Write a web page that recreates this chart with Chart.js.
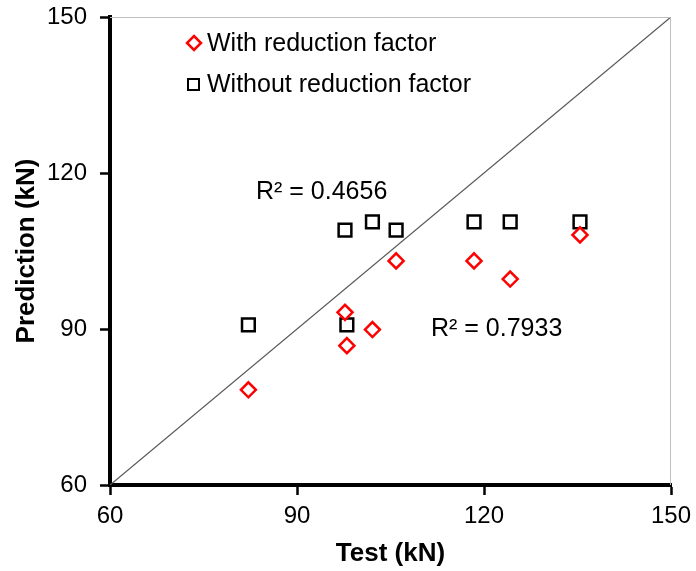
<!DOCTYPE html>
<html>
<head>
<meta charset="utf-8">
<script src="https://cdn.jsdelivr.net/npm/chart.js@4"></script>
<style>
  html, body { margin: 0; padding: 0; background: #fff; }
  #wrap { width: 696px; height: 571px; }
</style>
</head>
<body>
<div id="wrap"><canvas id="myChart"></canvas></div>
<script>
var testWith = [82.2, 97.7, 98.0, 102.1, 105.9, 118.4, 124.2, 135.4];
var predWith = [78.3, 93.2, 86.8, 89.9, 103.1, 103.1, 99.6, 108.1];
var testWithout = [82.2, 97.7, 98.0, 102.1, 105.9, 118.4, 124.2, 135.4];
var predWithout = [90.8, 109.0, 90.8, 110.6, 109.0, 110.6, 110.6, 110.6];
var lineX = [60, 150];
var axisTicks = [60, 90, 120, 150];
var seriesNames = ['With reduction factor', 'Without reduction factor'];
var r2Labels = ['R\u00b2 = 0.4656', 'R\u00b2 = 0.7933'];

function toPoints(xs, ys) {
    return xs.map(function (x, i) { return { x: x, y: ys[i] }; });
}

var FONT = '"Liberation Sans", Arial, sans-serif';

// legend, R² labels and the thin top/right frame
var extras = {
    id: 'extras',
    afterDraw: function (chart) {
        var c = chart.ctx;
        var a = chart.chartArea;
        c.save();
        c.strokeStyle = '#bfbfbf';
        c.lineWidth = 1;
        c.beginPath();
        c.moveTo(a.left, a.top + 0.5);
        c.lineTo(a.right - 0.5, a.top + 0.5);
        c.lineTo(a.right - 0.5, a.bottom);
        c.stroke();

        // legend
        c.lineWidth = 2.5;
        c.strokeStyle = '#ff0000';
        c.beginPath();
        c.moveTo(194, 36); c.lineTo(201, 43); c.lineTo(194, 50); c.lineTo(187, 43); c.closePath();
        c.stroke();
        c.strokeStyle = '#000';
        c.lineWidth = 2;
        c.strokeRect(188, 79, 11, 11);
        c.fillStyle = '#000';
        c.font = '25px ' + FONT;
        c.textBaseline = 'middle';
        c.textAlign = 'left';
        c.fillText(seriesNames[0], 207, 44);
        c.fillText(seriesNames[1], 207, 85);

        c.fillText(r2Labels[0], 256, 192);
        c.fillText(r2Labels[1], 431, 329);
        c.restore();
    }
};

function fixTicks(s) {
    s.ticks = axisTicks.map(function (v) { return { value: v }; });
}

var ctx = document.getElementById('myChart').getContext('2d');
var myChart = new Chart(ctx, {
    type: 'scatter',
    data: {
        datasets: [{
            label: seriesNames[0],
            data: toPoints(testWith, predWith),
            pointStyle: 'rectRot',
            pointRadius: 7.5,
            pointHoverRadius: 7.5,
            borderColor: '#ff0000',
            backgroundColor: '#ffffff',
            borderWidth: 2.5,
            order: 1
        }, {
            label: seriesNames[1],
            data: toPoints(testWithout, predWithout),
            pointStyle: 'rect',
            pointRadius: 9,
            pointHoverRadius: 9,
            borderColor: '#000000',
            backgroundColor: '#ffffff',
            borderWidth: 2.5,
            order: 2
        }, {
            type: 'line',
            label: 'line',
            data: toPoints(lineX, lineX),
            borderColor: '#595959',
            borderWidth: 1.3,
            pointRadius: 0,
            fill: false,
            order: 3
        }]
    },
    options: {
        responsive: true,
        maintainAspectRatio: false,
        animation: false,
        layout: { padding: { top: 17, right: 25, left: 0, bottom: 0 } },
        plugins: {
            legend: { display: false },
            tooltip: { enabled: false }
        },
        scales: {
            x: {
                type: 'linear',
                min: 60,
                max: 150,
                afterBuildTicks: fixTicks,
                afterFit: function (s) { s.height = 86; s.paddingLeft = 0; s.paddingRight = 0; },
                border: { color: '#000', width: 4 },
                grid: { drawOnChartArea: false, drawTicks: true, tickLength: 10, tickColor: '#000', tickWidth: 2.5 },
                ticks: { color: '#000', padding: 7, font: { family: FONT, size: 24 } },
                title: { display: true, text: 'Test (kN)', color: '#000', padding: { top: 0, bottom: 2 }, font: { family: FONT, size: 26, weight: 'bold' } }
            },
            y: {
                type: 'linear',
                min: 60,
                max: 150,
                afterBuildTicks: fixTicks,
                afterFit: function (s) { s.width = 110; s.paddingTop = 0; s.paddingBottom = 0; },
                border: { color: '#000', width: 4 },
                grid: { drawOnChartArea: false, drawTicks: true, tickLength: 10, tickColor: '#000', tickWidth: 2.5 },
                ticks: { color: '#000', padding: 13, font: { family: FONT, size: 24 } },
                title: { display: true, text: 'Prediction (kN)', color: '#000', padding: { top: 11, bottom: 0 }, font: { family: FONT, size: 26, weight: 'bold' } }
            }
        }
    },
    plugins: [extras]
});
</script>
</body>
</html>
